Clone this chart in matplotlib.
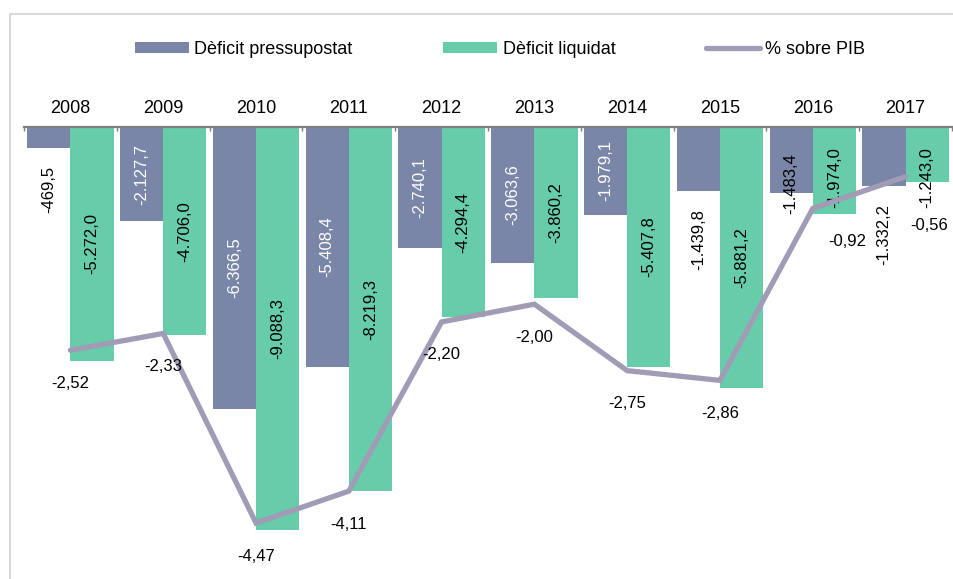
import matplotlib.pyplot as plt
import numpy as np
from matplotlib.patches import Rectangle

plt.rcParams['font.family'] = ['Liberation Sans', 'DejaVu Sans']

years = ['2008', '2009', '2010', '2011', '2012', '2013', '2014', '2015', '2016', '2017']
deficit_pressupostat = [-469.5, -2127.7, -6366.5, -5408.4, -2740.1, -3063.6, -1979.1, -1439.8, -1483.4, -1332.2]
deficit_liquidat = [-5272.0, -4706.0, -9088.3, -8219.3, -4294.4, -3860.2, -5407.8, -5881.2, -1974.0, -1243.0]
pct_pib = [-2.52, -2.33, -4.47, -4.11, -2.20, -2.00, -2.75, -2.86, -0.92, -0.56]

BLUE = '#7A86A8'
GREEN = '#66CCAA'
LINE = '#A29BB5'
AXIS = '#7F7F7F'


def fmt_es(v, dec):
    s = f'{v:,.{dec}f}'
    return s.replace(',', 'X').replace('.', ',').replace('X', '.')


fig = plt.figure(figsize=(9.54, 5.79), dpi=100)
fig.patches.append(Rectangle((10 / 954, -0.01), 1.0, 1 - 14 / 579 + 0.01,
                             transform=fig.transFigure, fill=False,
                             edgecolor='#D9D9D9', linewidth=1.5))

ax = fig.add_axes([24 / 954, 1 - 570 / 579, 928 / 954, (570 - 127) / 579])
ax2 = ax.twinx()

x = np.arange(len(years))
w = 0.465
b1 = ax.bar(x - w / 2, deficit_pressupostat, w, color=BLUE, label='Dèficit pressupostat', zorder=2)
b2 = ax.bar(x + w / 2, deficit_liquidat, w, color=GREEN, label='Dèficit liquidat', zorder=2)
ln, = ax2.plot(x, pct_pib, color=LINE, linewidth=3.8, solid_capstyle='round',
               solid_joinstyle='miter', label='% sobre PIB', zorder=3)

ax.set_xlim(-0.5, len(years) - 0.5)
ax.set_ylim(-10000, 0)
ax2.set_ylim(-5, 0)

# axis at the top
for s in ['left', 'right', 'bottom']:
    ax.spines[s].set_visible(False)
for s in ax2.spines.values():
    s.set_visible(False)
ax.spines['top'].set_color(AXIS)
ax.spines['top'].set_linewidth(1.6)
ax.set_yticks([])
ax2.set_yticks([])
ax.set_xticks(x, years)
ax.set_xticks(np.arange(len(years) + 1) - 0.5, minor=True)
ax.tick_params(axis='x', which='major', length=0, pad=7, labelsize=13,
               top=True, labeltop=True, bottom=False, labelbottom=False)
ax.tick_params(axis='x', which='minor', direction='in', length=3, width=1,
               color=AXIS, top=True, bottom=False)

# labels for the blue bars: 'in' = white centred, 'below' = black under bar, 'end' = black at bar end
blue_mode = ['below', 'in', 'in', 'in', 'in', 'in', 'in', 'below', 'end', 'below']
for i, v in enumerate(deficit_pressupostat):
    xc = x[i] - w / 2
    t = fmt_es(v, 1)
    if blue_mode[i] == 'in':
        ax.text(xc, v / 2, t, rotation=90, ha='center', va='center', color='white', fontsize=12, zorder=4)
    elif blue_mode[i] == 'below':
        ax.annotate(t, (xc, v), xytext=(0, -18), textcoords='offset pixels', rotation=90,
                    ha='center', va='top', fontsize=12, color='black', zorder=4)
    else:
        ax.annotate(t, (xc, v), xytext=(0, 9), textcoords='offset pixels', rotation=90,
                    ha='center', va='center', fontsize=12, color='black', zorder=4)

green_dy = [0, 0, 0, 0, 0, 0, 0, 0, -7, -23]
for i, v in enumerate(deficit_liquidat):
    ax.annotate(fmt_es(v, 1), (x[i] + w / 2, v / 2), xytext=(0, green_dy[i]), textcoords='offset pixels',
                rotation=90, ha='center', va='center', fontsize=12, color='black', zorder=4)

line_off = [(0, -33)] * 8 + [(34, -33), (24, -49)]
for i, v in enumerate(pct_pib):
    ax2.annotate(fmt_es(v, 2), (x[i], v), xytext=line_off[i], textcoords='offset pixels',
                 ha='center', va='center', fontsize=12, color='black', zorder=5)

fig.legend(handles=[b1, b2, ln], loc='center', bbox_to_anchor=(500 / 954, 1 - 49 / 579),
           ncol=3, frameon=False, fontsize=13, handlelength=3.0, handleheight=0.55,
           columnspacing=5.0, handletextpad=0.3)

fig.savefig('out.png', dpi=100)
